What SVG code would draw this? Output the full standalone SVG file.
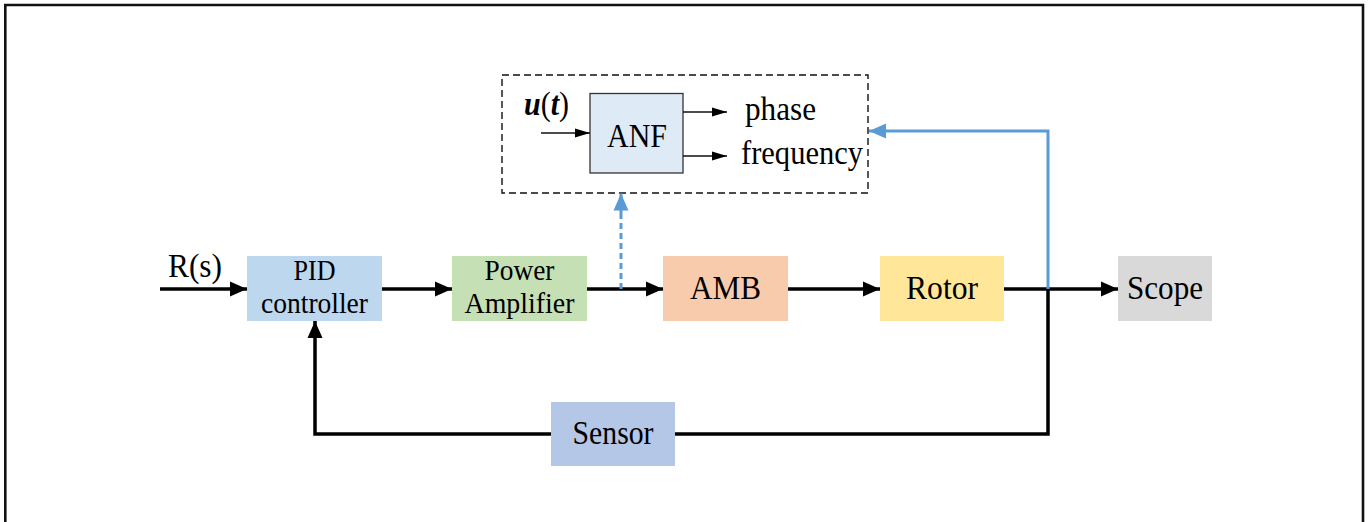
<svg xmlns="http://www.w3.org/2000/svg" width="1371" height="522" viewBox="0 0 1371 522">
<defs>
<marker id="ah" markerUnits="userSpaceOnUse" markerWidth="17" markerHeight="16" viewBox="0 0 17 16" refX="17" refY="8" orient="auto"><path d="M0,0.5 L17,8 L0,15.5 Z" fill="#000"/></marker>
<marker id="ahs" markerUnits="userSpaceOnUse" markerWidth="15" markerHeight="10" viewBox="0 0 15 10" refX="15" refY="5" orient="auto"><path d="M0,0.5 L15,5 L0,9.5 Z" fill="#000"/></marker>
<marker id="ahb" markerUnits="userSpaceOnUse" markerWidth="17" markerHeight="16" viewBox="0 0 17 16" refX="17" refY="8" orient="auto"><path d="M0,0.5 L17,8 L0,15.5 Z" fill="#5b9bd5"/></marker>
</defs>
<style>
.t{font-family:"Liberation Serif","Times New Roman",serif;fill:#000;text-anchor:middle}
.b{font-size:33px}
.s{font-size:29px}
.l{font-family:"Liberation Serif","Times New Roman",serif;font-size:33px;fill:#000}
.w{stroke:#000;stroke-width:3.5;fill:none}
.thin{stroke:#111;stroke-width:1.3;fill:none}
.blue{stroke:#5b9bd5;stroke-width:3;fill:none}
</style>
<rect width="1371" height="522" fill="#fff"/>
<path d="M5.3,530 V5 H1363 V530" fill="none" stroke="#111" stroke-width="2.6"/>

<g id="anf-group">
<rect x="502" y="75" width="366" height="118" fill="none" stroke="#111" stroke-width="1.4" stroke-dasharray="7,4"/>
</g>
<g id="anf">
<rect x="590" y="93.5" width="93" height="79.5" fill="#deebf7" stroke="#333" stroke-width="1.3"/>
<text class="t b" x="637" y="147" textLength="60" lengthAdjust="spacingAndGlyphs">ANF</text>
</g>
<g id="ut">
<text class="l" x="524" y="115" textLength="45" lengthAdjust="spacingAndGlyphs"><tspan font-weight="bold" font-style="italic">u</tspan>(<tspan font-weight="bold" font-style="italic">t</tspan>)</text>
</g>
<g id="phase"><text class="l" x="745" y="120" textLength="71" lengthAdjust="spacingAndGlyphs">phase</text></g>
<g id="frequency"><text class="l" x="741" y="164" textLength="122" lengthAdjust="spacingAndGlyphs">frequency</text></g>

<g id="pid">
<rect x="247" y="256" width="135" height="65" fill="#bdd7ee"/>
<text class="t s" x="314.5" y="280" textLength="42" lengthAdjust="spacingAndGlyphs">PID</text>
<text class="t s" x="314.5" y="313" textLength="107" lengthAdjust="spacingAndGlyphs">controller</text>
</g>
<g id="power-amplifier">
<rect x="452" y="256" width="135" height="65" fill="#c5e0b4"/>
<text class="t s" x="519.5" y="280" textLength="70" lengthAdjust="spacingAndGlyphs">Power</text>
<text class="t s" x="519.5" y="313" textLength="110" lengthAdjust="spacingAndGlyphs">Amplifier</text>
</g>
<g id="amb">
<rect x="663" y="256" width="125" height="65" fill="#f8cbad"/>
<text class="t b" x="725.5" y="299" textLength="71" lengthAdjust="spacingAndGlyphs">AMB</text>
</g>
<g id="rotor">
<rect x="880" y="256" width="124" height="65" fill="#ffe699"/>
<text class="t b" x="942" y="299" textLength="72" lengthAdjust="spacingAndGlyphs">Rotor</text>
</g>
<g id="scope">
<rect x="1118" y="256" width="94" height="65" fill="#d9d9d9"/>
<text class="t b" x="1165" y="299" textLength="76" lengthAdjust="spacingAndGlyphs">Scope</text>
</g>
<g id="sensor">
<rect x="551" y="402" width="124" height="64" fill="#b4c7e7"/>
<text class="t b" x="613" y="444" textLength="81" lengthAdjust="spacingAndGlyphs">Sensor</text>
</g>
<g id="rs"><text class="t b" x="195" y="277" textLength="54" lengthAdjust="spacingAndGlyphs">R(s)</text></g>

<g id="connectors">
<path class="w" d="M160,289 H247" marker-end="url(#ah)"/>
<path class="w" d="M382,289 H452" marker-end="url(#ah)"/>
<path class="w" d="M587,289 H663" marker-end="url(#ah)"/>
<path class="w" d="M788,289 H880" marker-end="url(#ah)"/>
<path class="w" d="M1004,289 H1118" marker-end="url(#ah)"/>
<path class="w" d="M1048,289 V434 H675"/>
<path class="w" d="M551,434 H315 V321" marker-end="url(#ah)"/>
<path class="blue" d="M1048,289 V131 H869" marker-end="url(#ahb)"/>
<path class="blue" d="M621,289 V209" stroke-dasharray="6,4"/>
<path class="blue" d="M621,213 V193.5" marker-end="url(#ahb)"/>
<path class="thin" d="M541,133 H590" marker-end="url(#ahs)"/>
<path class="thin" d="M683,112 H727" marker-end="url(#ahs)"/>
<path class="thin" d="M683,156 H727" marker-end="url(#ahs)"/>
</g>
</svg>
